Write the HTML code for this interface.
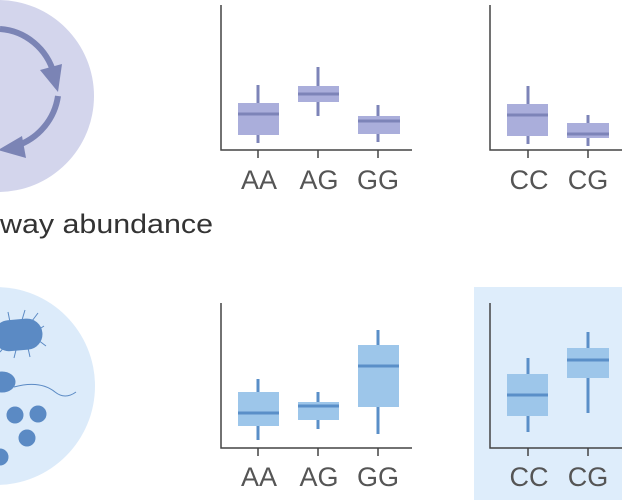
<!DOCTYPE html>
<html><head><style>
body{margin:0;width:622px;height:500px;overflow:hidden;background:#fff}
svg{display:block}
text{font-family:"Liberation Sans",sans-serif}
</style></head><body>
<svg width="622" height="500" viewBox="0 0 622 500">
<circle cx="-2" cy="96" r="96" fill="#d3d5ec"/>
<path d="M0 29 A60 62 0 0 1 54 74" fill="none" stroke="#7b84b5" stroke-width="6"/>
<polygon points="40,70 62,64 58,92" fill="#7b84b5"/>
<path d="M58 96 A62 62 0 0 1 16 146" fill="none" stroke="#7b84b5" stroke-width="6"/>
<polygon points="22,136 26,158 -2,150" fill="#7b84b5"/>
<text x="0" y="233" font-size="27" fill="#333" textLength="213" lengthAdjust="spacingAndGlyphs">way abundance</text>
<circle cx="-4" cy="386" r="99" fill="#dcebfa"/>
<g fill="#5b8ac4" stroke="#5b8ac4">
<rect x="-6" y="320" width="48" height="30" rx="15" transform="rotate(-5 17 335)"/>
<g stroke-width="1" fill="none">
<path d="M10 322 L8 312 M22 320 L25 310 M32 321 L38 313 M38 330 L44 326 M38 340 L46 346 M28 348 L30 357 M16 350 L14 358 M5 346 L0 352"/>
<path d="M14 387 Q40 380 55 392 Q65 400 76 392"/>
</g>
<ellipse cx="2" cy="382" rx="13" ry="10"/>
<circle cx="15" cy="415" r="8"/>
<circle cx="38" cy="414" r="8"/>
<circle cx="27" cy="438" r="8"/>
<circle cx="0" cy="457" r="8"/>
</g>
<rect x="474" y="287" width="148" height="213" fill="#deedfb"/>
<g stroke="#444" stroke-width="1.5" fill="none">
<path d="M221 5 V150 H412 M258 150 v8 M318 150 v8 M378 150 v8"/>
<path d="M490 5 V150 H622 M528 150 v8 M588 150 v8"/>
<path d="M221 303 V448 H412 M258 448 v8 M318 448 v8 M378 448 v8"/>
<path d="M490 303 V448 H622 M528 448 v8 M588 448 v8"/>
</g>
<g stroke="#7d84b8" stroke-width="3">
<line x1="258" y1="85" x2="258" y2="143"/><line x1="318" y1="67" x2="318" y2="116"/><line x1="378" y1="105" x2="378" y2="142"/>
<line x1="528" y1="86" x2="528" y2="144"/><line x1="588" y1="115" x2="588" y2="146"/>
</g>
<g fill="#aaaedb">
<rect x="238" y="103" width="41" height="32"/><rect x="298" y="86" width="41" height="16"/><rect x="358" y="116" width="42" height="18"/>
<rect x="507" y="104" width="41" height="32"/><rect x="567" y="123" width="42" height="15"/>
</g>
<g stroke="#7d84b8" stroke-width="3">
<line x1="238" y1="114" x2="279" y2="114"/><line x1="298" y1="94" x2="339" y2="94"/><line x1="358" y1="121" x2="400" y2="121"/>
<line x1="507" y1="115" x2="548" y2="115"/><line x1="567" y1="134" x2="609" y2="134"/>
</g>
<g stroke="#5a8fc8" stroke-width="3">
<line x1="258" y1="379" x2="258" y2="440"/><line x1="318" y1="392" x2="318" y2="429"/><line x1="378" y1="330" x2="378" y2="434"/>
<line x1="528" y1="358" x2="528" y2="432"/><line x1="588" y1="332" x2="588" y2="413"/>
</g>
<g fill="#9dc6ea">
<rect x="238" y="392" width="41" height="34"/><rect x="298" y="402" width="41" height="18"/><rect x="358" y="345" width="41" height="62"/>
<rect x="507" y="374" width="41" height="42"/><rect x="567" y="348" width="42" height="30"/>
</g>
<g stroke="#5a8fc8" stroke-width="3">
<line x1="238" y1="413" x2="279" y2="413"/><line x1="298" y1="406" x2="339" y2="406"/><line x1="358" y1="366" x2="399" y2="366"/>
<line x1="507" y1="395" x2="548" y2="395"/><line x1="567" y1="360" x2="609" y2="360"/>
</g>
<g font-size="27" fill="#555" text-anchor="middle">
<text x="259" y="189">AA</text><text x="319" y="189">AG</text><text x="378" y="189">GG</text>
<text x="529" y="189">CC</text><text x="588" y="189">CG</text>
<text x="259" y="486">AA</text><text x="319" y="486">AG</text><text x="378" y="486">GG</text>
<text x="529" y="486">CC</text><text x="588" y="486">CG</text>
</g>
</svg>
</body></html>
